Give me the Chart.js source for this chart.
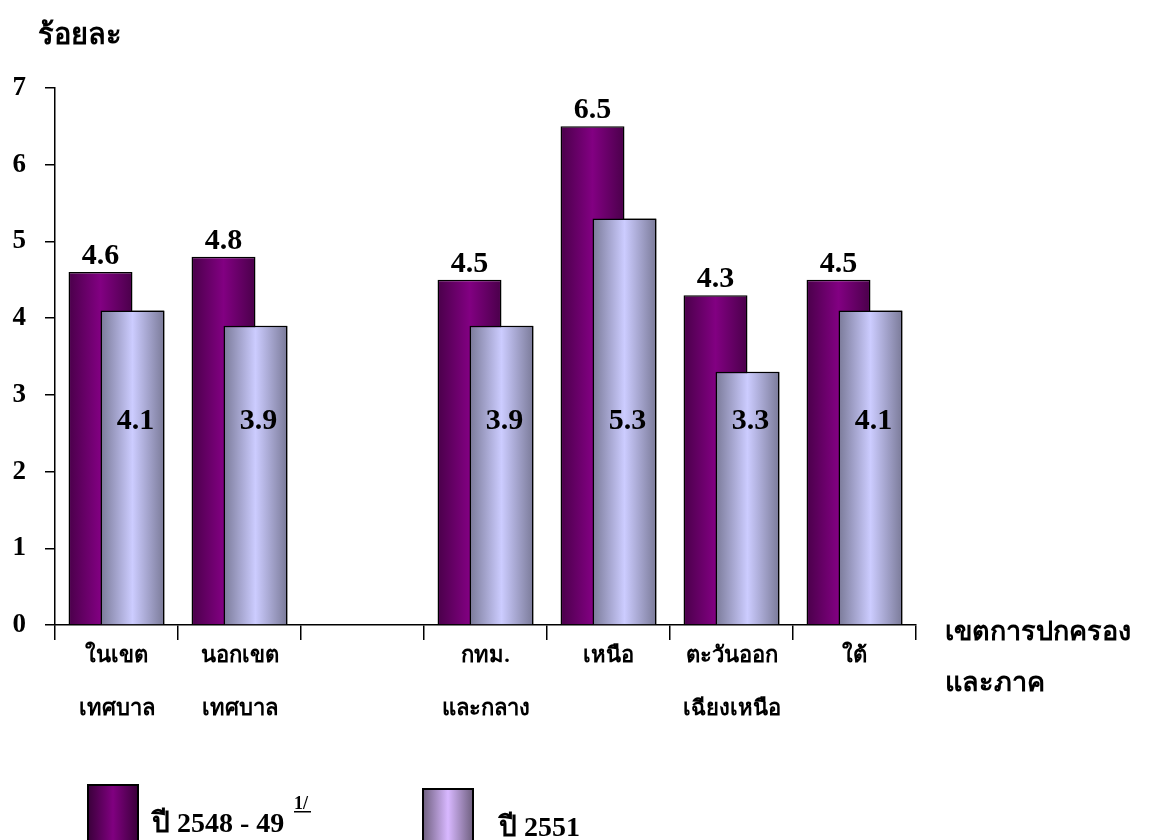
<!DOCTYPE html>
<html>
<head>
<meta charset="utf-8">
<script src="https://cdn.jsdelivr.net/npm/chart.js@4/dist/chart.umd.min.js"></script>
<style>
  html, body { margin: 0; padding: 0; background: #ffffff; }
  #wrap { width: 1161px; height: 840px; position: relative; }
</style>
</head>
<body>
<div id="wrap"><canvas id="chart"></canvas></div>
<script>
// dati
const categories = [
    ['ในเขต', 'เทศบาล'],
    ['นอกเขต', 'เทศบาล'],
    ['', ''],
    ['กทม.', 'และกลาง'],
    ['เหนือ', ''],
    ['ตะวันออก', 'เฉียงเหนือ'],
    ['ใต้', '']
];
const series2548 = [4.6, 4.8, null, 4.5, 6.5, 4.3, 4.5];
const series2551 = [4.1, 3.9, null, 3.9, 5.3, 3.3, 4.1];
const seriesNames = ['ปี 2548 - 49', 'ปี 2551'];
const yTicks = [0, 1, 2, 3, 4, 5, 6, 7];

const FONT = '"Liberation Serif", "Times New Roman", serif';
const CAT_PCT = 0.52;
const BAR_PCT = 2;

// gradiente orizzontale per ogni barra, calcolato dalla scala x
function barGradient(context, edge, mid) {
    const chart = context.chart;
    const xs = chart.scales.x;
    if (!xs || context.type !== 'data' || !chart.chartArea) return mid;
    const catW = xs.width / categories.length;
    const slot = catW * CAT_PCT / 2;
    const w = slot * BAR_PCT;
    const c = xs.getPixelForValue(context.dataIndex) + (context.datasetIndex === 0 ? -slot / 2 : slot / 2);
    const g = chart.ctx.createLinearGradient(c - w / 2, 0, c + w / 2, 0);
    g.addColorStop(0, edge);
    g.addColorStop(0.5, mid);
    g.addColorStop(1, edge);
    return g;
}

// barre chiare sopra, etichette, titoli e legenda
const decorPlugin = {
    id: 'decor',
    afterDatasetsDraw(chart) {
        const ctx = chart.ctx;
        const ys = chart.scales.y;
        // ridisegna la serie 2551 sopra la serie 2548
        chart.getDatasetMeta(1).data.forEach(el => el.draw(ctx, chart.chartArea));

        ctx.save();
        ctx.fillStyle = '#000000';
        ctx.textAlign = 'center';
        ctx.font = 'bold 30px ' + FONT;
        ctx.textBaseline = 'bottom';
        chart.getDatasetMeta(0).data.forEach((el, i) => {
            if (series2548[i] == null) return;
            ctx.fillText(series2548[i].toFixed(1), el.x, el.y - 1);
        });
        ctx.textBaseline = 'middle';
        const yIn = ys.getPixelForValue(2.65);
        chart.getDatasetMeta(1).data.forEach((el, i) => {
            if (series2551[i] == null) return;
            ctx.fillText(series2551[i].toFixed(1), el.x + 3, yIn);
        });
        ctx.restore();
    },
    afterDraw(chart) {
        const ctx = chart.ctx;
        ctx.save();
        ctx.fillStyle = '#000000';
        ctx.textAlign = 'left';
        ctx.textBaseline = 'alphabetic';
        ctx.font = 'bold 29px ' + FONT;
        ctx.fillText('ร้อยละ', 38, 44);

        ctx.textBaseline = 'middle';
        ctx.font = 'bold 27px ' + FONT;
        ctx.fillText('เขตการปกครอง', 945, 633);
        ctx.fillText('และภาค', 945, 684);

        // legenda
        const boxes = [
            { x: 88, y: 785, edge: '#3a003a', mid: '#800080', text: seriesNames[0], tx: 152, ty: 832 },
            { x: 423, y: 789, edge: '#6f607f', mid: '#d8b8ff', text: seriesNames[1], tx: 499, ty: 836 }
        ];
        boxes.forEach(b => {
            const g = ctx.createLinearGradient(b.x, 0, b.x + 50, 0);
            g.addColorStop(0, b.edge);
            g.addColorStop(0.5, b.mid);
            g.addColorStop(1, b.edge);
            ctx.fillStyle = g;
            ctx.fillRect(b.x, b.y, 50, 60);
            ctx.lineWidth = 2;
            ctx.strokeStyle = '#000000';
            ctx.strokeRect(b.x, b.y, 50, 60);
            ctx.fillStyle = '#000000';
            ctx.font = 'bold 28px ' + FONT;
            ctx.textBaseline = 'alphabetic';
            ctx.fillText(b.text, b.tx, b.ty);
        });
        // nota 1/
        ctx.font = 'bold 18px ' + FONT;
        ctx.fillText('1/', 294, 809);
        ctx.fillRect(294, 811, 17, 1.5);
        ctx.restore();
    }
};

new Chart(document.getElementById('chart'), {
    type: 'bar',
    data: {
        labels: categories,
        datasets: [{
            label: seriesNames[0],
            data: series2548,
            backgroundColor: c => barGradient(c, '#4a004a', '#820082'),
            borderColor: '#000000',
            borderWidth: 1.5,
            categoryPercentage: CAT_PCT,
            barPercentage: BAR_PCT
        }, {
            label: seriesNames[1],
            data: series2551,
            backgroundColor: c => barGradient(c, '#7a7a98', '#ccccff'),
            borderColor: '#000000',
            borderWidth: 1.5,
            categoryPercentage: CAT_PCT,
            barPercentage: BAR_PCT
        }]
    },
    options: {
        responsive: true,
        maintainAspectRatio: false,
        animation: false,
        layout: { padding: { top: 88, right: 245, left: 0, bottom: 0 } },
        plugins: {
            legend: { display: false },
            tooltip: { enabled: false }
        },
        scales: {
            x: {
                offset: true,
                afterFit: s => { s.height = 215; },
                grid: {
                    offset: true,
                    drawOnChartArea: false,
                    drawTicks: true,
                    tickLength: 15,
                    color: '#000000',
                    lineWidth: 1.5
                },
                border: { color: '#000000', width: 1.5 },
                ticks: {
                    color: '#000000',
                    padding: -10,
                    maxRotation: 0,
                    autoSkip: false,
                    font: { family: FONT, size: 22, weight: 'bold', lineHeight: 2.4 }
                }
            },
            y: {
                min: 0,
                max: 7,
                afterFit: s => { s.width = 55; },
                afterBuildTicks: s => { s.ticks = yTicks.map(v => ({ value: v })); },
                grid: {
                    drawOnChartArea: false,
                    drawTicks: true,
                    tickLength: 10,
                    color: '#000000',
                    lineWidth: 1.5
                },
                border: { color: '#000000', width: 1.5 },
                ticks: {
                    color: '#000000',
                    padding: 19,
                    font: { family: FONT, size: 27, weight: 'bold' }
                }
            }
        }
    },
    plugins: [decorPlugin]
});
</script>
</body>
</html>
